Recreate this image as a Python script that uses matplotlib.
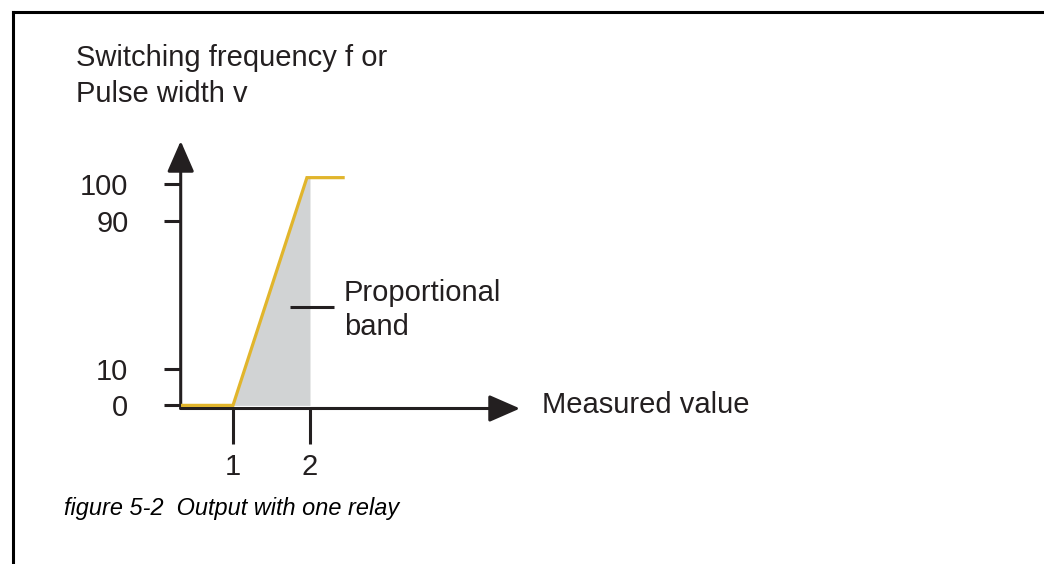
import numpy as np
import matplotlib
matplotlib.use("Agg")
import matplotlib.pyplot as plt
from matplotlib.lines import Line2D

plt.rcParams['font.family'] = ['Liberation Sans', 'DejaVu Sans']

# data (schematic)
meas = [0.32, 1.0, 1.96, 2.43]          # measured value
out = [0.0, 0.0, 101.6, 101.6]          # switching frequency / pulse width
band_x = [1.0, 1.96, 2.0]               # proportional band (shaded)
band_y = [0.0, 101.6, 101.6]
x_ticks = [1, 2]
y_ticks = [0, 10, 90, 100]

ink = '#231f20'
gold = '#e1b52c'
grey = '#d1d3d4'

W, H = 1044, 564
fig = plt.figure(figsize=(W / 100, H / 100), dpi=100)

# frame of the page: top and left rules only
fig.add_artist(Line2D([13 / W, 1], [1 - 12 / H, 1 - 12 / H], color='black', lw=2.2))
fig.add_artist(Line2D([13 / W, 13 / W], [0, 1 - 12 / H], color='black', lw=2.2))

# axes box: y axis at x=180px, x axis at y=408px, arrow tips at 520px / 141px
ax = fig.add_axes([180.7 / W, (H - 408.5) / H, (520 - 180.7) / W, (408.5 - 141) / H])
ax.patch.set_alpha(0)

# the y axis is not to scale: 10..90 is squeezed
src = [-1000, 0, 10, 90, 100, 1000]
dst = [-3700, 0, 37, 185, 223, 223 + 900 * 3.8]
ax.set_yscale('function', functions=(lambda v: np.interp(v, src, dst),
                                     lambda v: np.interp(v, dst, src)))
ax.set_xlim(0.321, 4.727)
ax.set_ylim(-0.85, 111.3)

ax.fill_between(band_x, 0, band_y, color=grey, lw=0, zorder=1)
ax.plot(meas, out, color=gold, lw=2.3, solid_joinstyle='miter', zorder=4)

for s in ax.spines.values():
    s.set_visible(False)

arrow = dict(arrowstyle='-|>,head_length=19,head_width=8.3', mutation_scale=1,
             lw=2.2, color=ink, shrinkA=0, shrinkB=0)
ax.annotate('', xy=(1, 0), xytext=(0, 0), xycoords='axes fraction', arrowprops=arrow, zorder=3)
ax.annotate('', xy=(0, 1), xytext=(0, 0), xycoords='axes fraction', arrowprops=arrow, zorder=3)

ax.set_xticks(x_ticks)
ax.set_xticklabels([str(t) for t in x_ticks])
ax.set_yticks(y_ticks)
ax.set_yticklabels([str(t) for t in y_ticks])
ax.tick_params(axis='x', direction='out', length=25, width=2.2, color=ink,
               pad=7, labelsize=21, labelcolor=ink)
ax.tick_params(axis='y', direction='out', length=12.6, width=2.2, color=ink,
               pad=25, labelsize=21, labelcolor=ink)
for lab in ax.get_yticklabels():
    lab.set_verticalalignment('center_baseline')
ax.minorticks_off()

# leader for the proportional band
ax.plot([1.74, 2.31], [43.5, 43.5], color=ink, lw=2.2, solid_capstyle='butt', zorder=3)
ax.annotate('Proportional\nband', xy=(2.31, 43.5), xytext=(10, -3),
            textcoords='offset pixels', ha='left', va='center', fontsize=21,
            color=ink, linespacing=1.3)

fig.text(76 / W, 1 - 76 / H, 'Switching frequency f or\nPulse width v', ha='left',
         va='center', fontsize=21, color=ink, linespacing=1.38)
fig.text(542 / W, 1 - 405 / H, 'Measured value', ha='left', va='center',
         fontsize=21, color=ink)
fig.text(64 / W, 1 - 509 / H, 'figure 5-2  Output with one relay', ha='left',
         va='center', fontsize=16.9, style='italic', color='black')

fig.savefig('out.png', dpi=100)
